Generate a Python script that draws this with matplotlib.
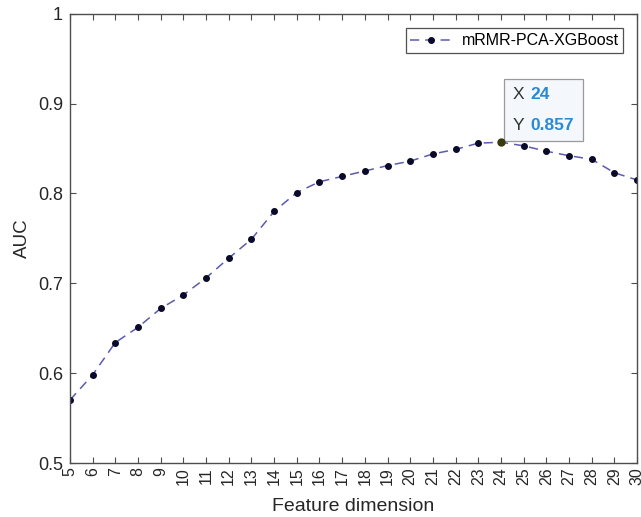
import matplotlib
matplotlib.use("Agg")
import matplotlib.pyplot as plt
from matplotlib.offsetbox import TextArea, HPacker, VPacker, AnnotationBbox

plt.rcParams["font.family"] = ["Liberation Sans", "DejaVu Sans"]

# ── Data ───────────────────────────────────────────────────────
dims = list(range(5, 31))
auc = [0.570, 0.598, 0.634, 0.651, 0.672, 0.687, 0.706, 0.728, 0.749,
       0.780, 0.801, 0.813, 0.819, 0.825, 0.831, 0.836, 0.844, 0.849,
       0.856, 0.857, 0.853, 0.847, 0.842, 0.838, 0.823, 0.815]
yticks = [0.5, 0.6, 0.7, 0.8, 0.9, 1.0]
ytick_labels = ["0.5", "0.6", "0.7", "0.8", "0.9", "1"]
tip_x, tip_y = 24, 0.857

AX_COLOR = "#4d4d4d"

fig = plt.figure(figsize=(6.41, 5.17), dpi=100)
ax = fig.add_axes([0.109, 0.1044, 0.885, 0.869])

ax.plot(dims, auc, linestyle=(0, (6, 4)), color="#5b5bb0", linewidth=1.1,
        marker="o", markersize=4, markerfacecolor="#0a0a2a",
        markeredgecolor="#0a0a2a", label="mRMR-PCA-XGBoost")
ax.plot([tip_x], [tip_y], "o", markersize=5, color="#3a3a10", zorder=5)

ax.set_xlim(5, 30)
ax.set_ylim(0.5, 1.0)
ax.set_xticks(dims)
ax.set_xticklabels([str(d) for d in dims], rotation=90, fontsize=11.5)
ax.set_yticks(yticks)
ax.set_yticklabels(ytick_labels, fontsize=13)
ax.tick_params(direction="in", top=True, right=True, colors=AX_COLOR,
               labelcolor="#262626", length=4, width=0.8, pad=3)
ax.tick_params(axis="y", pad=5)
for s in ax.spines.values():
    s.set_color(AX_COLOR)
    s.set_linewidth(1.0)

ax.set_xlabel("Feature dimension", fontsize=14, color="#262626", labelpad=9)
ax.set_ylabel("AUC", fontsize=13.5, color="#262626", labelpad=5)

leg = ax.legend(loc="upper right", fontsize=11.5, frameon=True, fancybox=False,
                handlelength=2.6, handletextpad=0.6, borderpad=0.3,
                bbox_to_anchor=(0.99, 0.985))
leg.get_frame().set_edgecolor("#262626")
leg.get_frame().set_linewidth(0.9)

# ── Data tip ───────────────────────────────────────────────────
lab = dict(color="#333333", fontsize=12.5)
val = dict(color="#2b8ad6", fontsize=12.5, fontweight="bold")
row_x = HPacker(children=[TextArea("X", textprops=lab),
                          TextArea(f"{tip_x}", textprops=val)],
                sep=5, align="baseline")
row_y = HPacker(children=[TextArea("Y", textprops=lab),
                          TextArea(f"{tip_y:.3f}", textprops=val)],
                sep=5, align="baseline")
tip = VPacker(children=[row_x, row_y], sep=11, align="left")
ab = AnnotationBbox(tip, (tip_x, tip_y), xybox=(8, 7),
                    xycoords="data", boxcoords="offset points",
                    box_alignment=(0, 0), pad=0.6, frameon=True,
                    bboxprops=dict(facecolor="#f4f7fb", edgecolor="#9a9a9a",
                                   linewidth=0.9, boxstyle="square,pad=0.6"))
ax.add_artist(ab)

fig.savefig("out.png", dpi=100)
